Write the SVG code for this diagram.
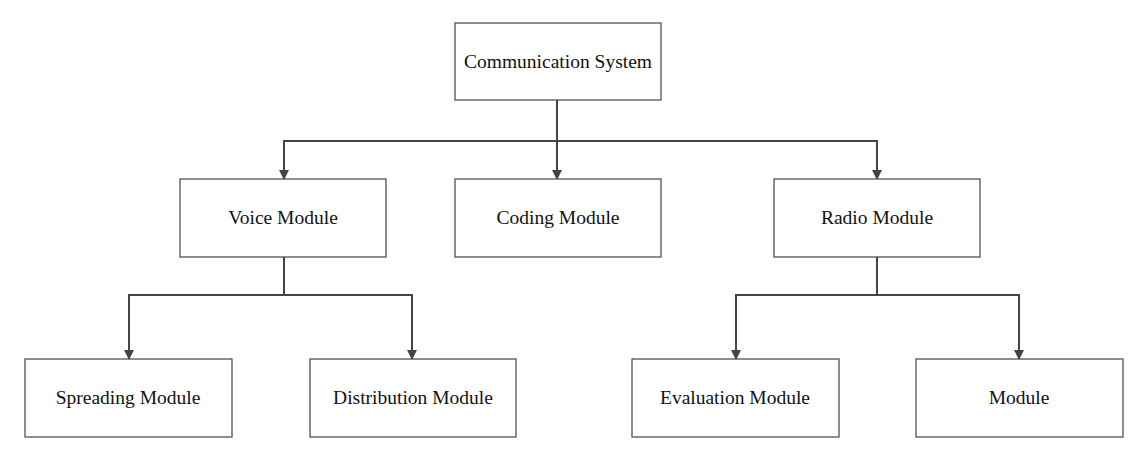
<svg xmlns="http://www.w3.org/2000/svg" width="1139" height="457" viewBox="0 0 1139 457">
<style>
.b{fill:#fff;stroke:#444;stroke-width:1.2}
.t{font-family:"Liberation Serif",serif;font-size:19.5px;fill:#111;text-anchor:middle}
.c{fill:none;stroke:#444;stroke-width:2}
</style>
<defs><marker id="a" markerWidth="10" markerHeight="10" refX="9" refY="5" orient="auto" markerUnits="userSpaceOnUse"><path d="M0,0 L10,5 L0,10 z" fill="#444"/></marker></defs>
<rect width="1139" height="457" fill="#fff"/>
<g id="connectors">
<path class="c" d="M557,100 V179" marker-end="url(#a)"/>
<path class="c" d="M284,179 V141 H877 V179" marker-end="url(#a)"/>
<path class="c" d="M284,141 V179" marker-end="url(#a)"/>
<path class="c" d="M284,257 V295 H129 V359" marker-end="url(#a)"/>
<path class="c" d="M284,295 H412 V359" marker-end="url(#a)"/>
<path class="c" d="M877,257 V295 H736 V359" marker-end="url(#a)"/>
<path class="c" d="M877,295 H1019 V359" marker-end="url(#a)"/>
</g>
<g id="n0"><rect class="b" x="455" y="23" width="206" height="77"/><text class="t" x="558" y="68">Communication System</text></g>
<g id="n1"><rect class="b" x="180" y="179" width="206" height="78"/><text class="t" x="283" y="224">Voice Module</text></g>
<g id="n2"><rect class="b" x="455" y="179" width="206" height="78"/><text class="t" x="558" y="224">Coding Module</text></g>
<g id="n3"><rect class="b" x="774" y="179" width="206" height="78"/><text class="t" x="877" y="224">Radio Module</text></g>
<g id="n4"><rect class="b" x="25" y="359" width="207" height="78"/><text class="t" x="128" y="404">Spreading Module</text></g>
<g id="n5"><rect class="b" x="310" y="359" width="206" height="78"/><text class="t" x="413" y="404">Distribution Module</text></g>
<g id="n6"><rect class="b" x="632" y="359" width="207" height="78"/><text class="t" x="735" y="404">Evaluation Module</text></g>
<g id="n7"><rect class="b" x="916" y="359" width="207" height="78"/><text class="t" x="1019" y="404">Module</text></g>
</svg>
